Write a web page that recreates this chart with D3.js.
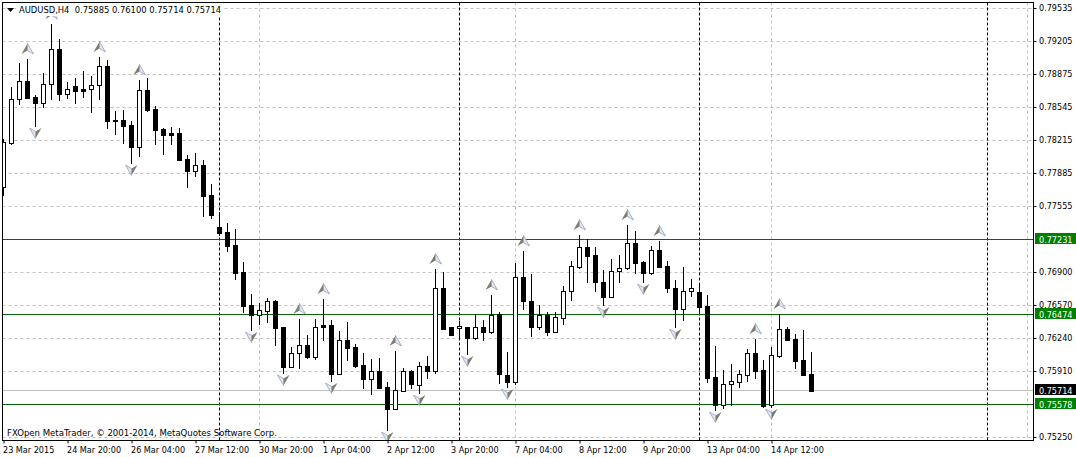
<!DOCTYPE html>
<html><head><meta charset="utf-8">
<style>html,body{margin:0;padding:0;background:#fff}svg{display:block}text{font-family:"DejaVu Sans Condensed","DejaVu Sans",sans-serif;font-stretch:condensed;font-size:9px;fill:#000}</style>
<script src="https://cdn.jsdelivr.net/npm/d3@7/dist/d3.min.js"></script>
</head><body><svg id="c" width="1076" height="458"></svg>
<script>
const symbol = "AUDUSD,H4  0.75885 0.76100 0.75714 0.75714";
const copyright = "FXOpen MetaTrader, © 2001-2014, MetaQuotes Software Corp.";
const opens = [.77755,.78195,.78635,.78815,.78655,.78595,.78785,.79135,.78685,.78765,.78735,.78735,.78775,.78965,.78425,.78425,.78375,.78155,.78725,.78535,.78335,.78295,.78295,.78035,.77915,.77975,.77675,.77355,.77305,.77175,.76905,.76575,.76475,.76515,.76615,.76355,.75955,.76095,.76175,.76055,.76375,.76375,.75885,.76225,.76155,.75975,.75835,.75915,.75755,.75535,.75715,.75915,.75775,.75965,.75915,.76745,.76355,.76345,.76355,.76245,.76355,.76305,.76485,.75875,.75805,.76855,.76615,.76355,.76475,.76305,.76445,.76715,.76955,.77155,.77075,.76805,.76655,.76915,.76945,.77195,.77005,.76895,.77125,.76965,.76745,.76535,.76715,.76705,.76565,.75855,.75575,.75785,.75805,.75875,.76095,.75925,.75575,.76065,.76335,.76235,.76025,.75885];
const highs = [.78235,.78755,.78995,.79035,.78675,.78895,.79385,.79235,.78805,.78845,.78915,.78865,.79055,.79025,.78515,.78525,.78415,.78825,.78845,.78565,.78345,.78355,.78345,.78075,.78095,.78025,.77785,.77505,.77395,.77335,.77005,.76685,.76595,.76645,.76625,.76355,.76155,.76435,.76275,.76435,.76635,.76425,.76315,.76405,.76185,.76095,.76035,.76045,.75805,.76115,.75945,.75925,.76005,.76065,.76935,.76905,.76355,.76415,.76355,.76485,.76425,.76675,.76505,.76105,.76995,.77115,.76885,.76575,.76505,.76505,.76765,.77015,.77275,.77235,.77155,.76925,.77035,.77075,.77375,.77315,.77015,.77165,.77215,.77015,.76825,.76955,.76835,.76785,.76675,.76165,.75925,.75985,.75925,.76135,.76235,.76025,.76155,.76485,.76355,.76285,.76325,.76100];
const lows = [.77675,.78185,.78585,.78645,.78365,.78555,.78635,.78625,.78645,.78595,.78655,.78505,.78635,.78345,.78285,.78195,.77995,.78065,.78515,.78185,.78085,.78185,.78025,.77755,.77865,.77465,.77445,.77275,.77115,.76835,.76505,.76325,.76385,.76405,.76175,.75895,.75955,.75945,.76045,.76035,.76225,.75815,.75885,.76025,.75955,.75745,.75685,.75745,.75325,.75535,.75715,.75745,.75695,.75845,.75895,.76335,.76275,.76235,.76085,.76235,.76225,.76295,.75795,.75755,.75785,.76535,.76265,.76335,.76275,.76305,.76385,.76625,.76945,.76805,.76715,.76575,.76655,.76805,.76935,.76895,.76805,.76885,.76955,.76705,.76355,.76425,.76665,.76505,.75805,.75525,.75545,.75575,.75755,.75815,.75845,.75555,.75555,.76055,.76225,.75945,.75875,.75714];
const closes = [.78205,.78635,.78815,.78645,.78595,.78785,.79135,.78685,.78735,.78715,.78715,.78775,.78965,.78415,.78415,.78365,.78155,.78725,.78525,.78325,.78275,.78275,.78025,.77915,.77975,.77665,.77475,.77295,.77165,.76895,.76565,.76475,.76525,.76615,.76345,.75955,.76095,.76175,.76055,.76355,.76355,.75885,.76225,.76145,.75965,.75835,.75915,.75745,.75535,.75725,.75915,.75785,.75965,.75915,.76745,.76335,.76275,.76365,.76245,.76355,.76305,.76475,.75885,.75805,.76855,.76615,.76355,.76475,.76305,.76455,.76715,.76965,.77155,.77065,.76805,.76655,.76915,.76945,.77195,.76995,.76895,.77125,.76955,.76745,.76535,.76715,.76745,.76555,.75845,.75575,.75785,.75815,.75885,.76095,.75915,.75565,.76075,.76335,.76225,.76015,.75875,.75714];
const upFractals = [3,6,12,17,37,40,49,54,61,65,72,78,82,94,97];
const downFractals = [4,16,31,35,41,48,52,58,63,75,80,84,89,96];
const priceTicks = [.79535,.79205,.78875,.78545,.78215,.77885,.77555,.76900,.76570,.76240,.75910,.75250];
const hiddenGrid = [.77225,.75580];
const greenLevels = [.77231,.76474,.75578];
const bidLevel = .75714;
const timeTickIndex = [0,8,16,24,32,40,48,56,64,72,80,88,96];
const timeTickLabels = ["23 Mar 2015","24 Mar 20:00","26 Mar 04:00","27 Mar 12:00","30 Mar 20:00","1 Apr 04:00","2 Apr 12:00","3 Apr 20:00","7 Apr 04:00","8 Apr 12:00","9 Apr 20:00","13 Apr 04:00","14 Apr 12:00"];
const periodSeparators = [27,57,87,123];

const W=1076,H=458,L=2.5,T=2.5,R=1033.5,B=440.5;
const x = d3.scaleLinear().domain([0,101]).range([3.5,811.5]);
const y = d3.scaleLinear().domain([.7525,.79535]).range([437.4,8.9]);
const py = v => Math.round(y(v));
const gy = v => Math.floor(y(v))+.5;
const svg = d3.select("#c");
svg.append("defs").append("clipPath").attr("id","plot").append("rect").attr("x",L).attr("y",T).attr("width",R-L).attr("height",B-T);
const g = svg.append("g").attr("clip-path","url(#plot)");

// grid
const gridY = priceTicks.concat(hiddenGrid);
g.selectAll(".gh").data(gridY).join("line").attr("x1",L).attr("x2",R).attr("y1",gy).attr("y2",gy)
  .attr("stroke","#c0c0c0").attr("stroke-dasharray","3,3");
const gridX = d3.range(4,130,4).map(k=>k*8);
g.selectAll(".gv").data(gridX).join("line").attr("x1",d=>x(d)).attr("x2",d=>x(d)).attr("y1",T).attr("y2",B)
  .attr("stroke","#c0c0c0").attr("stroke-dasharray","3,3");
// separators
g.selectAll(".sep").data(periodSeparators).join("line").attr("x1",d=>x(d)).attr("x2",d=>x(d)).attr("y1",T).attr("y2",B)
  .attr("stroke","#000").attr("stroke-dasharray","3,2");
// levels
g.selectAll(".lvl").data(greenLevels).join("line").attr("x1",L).attr("x2",R).attr("y1",gy).attr("y2",gy).attr("stroke","#0a640a");
g.append("line").attr("x1",L).attr("x2",R).attr("y1",gy(bidLevel)).attr("y2",gy(bidLevel)).attr("stroke","#c0c0c0");

// candles
const idx = d3.range(opens.length);
g.selectAll(".wick").data(idx).join("line").attr("x1",i=>x(i)).attr("x2",i=>x(i))
  .attr("y1",i=>py(highs[i])).attr("y2",i=>py(lows[i])+1).attr("stroke","#000");
g.selectAll(".body").data(idx).join("rect")
  .attr("x",i=>x(i)-2).attr("width",4)
  .attr("y",i=>Math.min(py(opens[i]),py(closes[i]))+.5)
  .attr("height",i=>Math.abs(py(opens[i])-py(closes[i])))
  .attr("fill",i=>closes[i]>opens[i]?"#fff":"#000").attr("stroke","#000");

// fractal arrows
function arrow(sel){
  sel.append("path").attr("d","M-6,5L0,-5.5L0,1.5Z").attr("fill","#7d7d72");
  sel.append("path").attr("d","M6,5L0,-5.5L0,1.5Z").attr("fill","#e0e6f2").attr("stroke","#94a2c0").attr("stroke-width",.8);
}
g.selectAll(".up").data(upFractals).join("g").attr("transform",i=>`translate(${x(i)},${py(highs[i])-10})`).call(arrow);
g.selectAll(".dn").data(downFractals).join("g").attr("transform",i=>`translate(${x(i)},${py(lows[i])+7}) rotate(180)`).call(arrow);

// labels inside plot
svg.append("rect").attr("x",16).attr("y",3).attr("width",207).attr("height",13).attr("fill","#fff");
svg.append("path").attr("d","M7,8L14,8L10.5,12Z").attr("fill","#000");
svg.append("text").attr("x",19).attr("y",13).style("white-space","pre").style("font-size","9.3px").text(symbol);
svg.append("text").attr("x",7).attr("y",436).style("font-size","9.5px").text(copyright);

// frame
svg.append("rect").attr("x",L).attr("y",T).attr("width",R-L).attr("height",B-T).attr("fill","none").attr("stroke","#000");

// axes
const ya = d3.axisRight(y).tickValues(priceTicks).tickFormat(d3.format(".5f")).tickSize(3).tickPadding(3);
const yg = svg.append("g").attr("transform",`translate(${R},0)`).call(ya);
yg.select(".domain").remove();
yg.selectAll(".tick").attr("transform",d=>`translate(0,${gy(d)})`);
yg.selectAll("text").attr("x",5.5).attr("dy",".33em");
yg.attr("font-size",null).attr("font-family",null);

const xa = d3.axisBottom(x).tickValues(timeTickIndex).tickFormat((d,i)=>timeTickLabels[i]).tickSize(3).tickPadding(0);
const xg = svg.append("g").attr("transform",`translate(0,${B})`).call(xa);
xg.select(".domain").remove();
xg.attr("font-size",null).attr("font-family",null);
xg.selectAll("text").attr("text-anchor","start").attr("x",-1).attr("y",12.5).attr("dy",0);

// price tags
const tags = greenLevels.map(v=>({v,c:"#008000"})).concat([{v:bidLevel,c:"#000"}]);
const tg = svg.selectAll(".tag").data(tags).join("g").attr("transform",d=>`translate(0,${gy(d.v)})`);
tg.append("rect").attr("x",1035).attr("y",-6.5).attr("width",41).attr("height",11).attr("fill",d=>d.c);
tg.append("text").attr("x",1039).attr("y",3).style("fill","#fff").text(d=>d3.format(".5f")(d.v));
</script></body></html>
